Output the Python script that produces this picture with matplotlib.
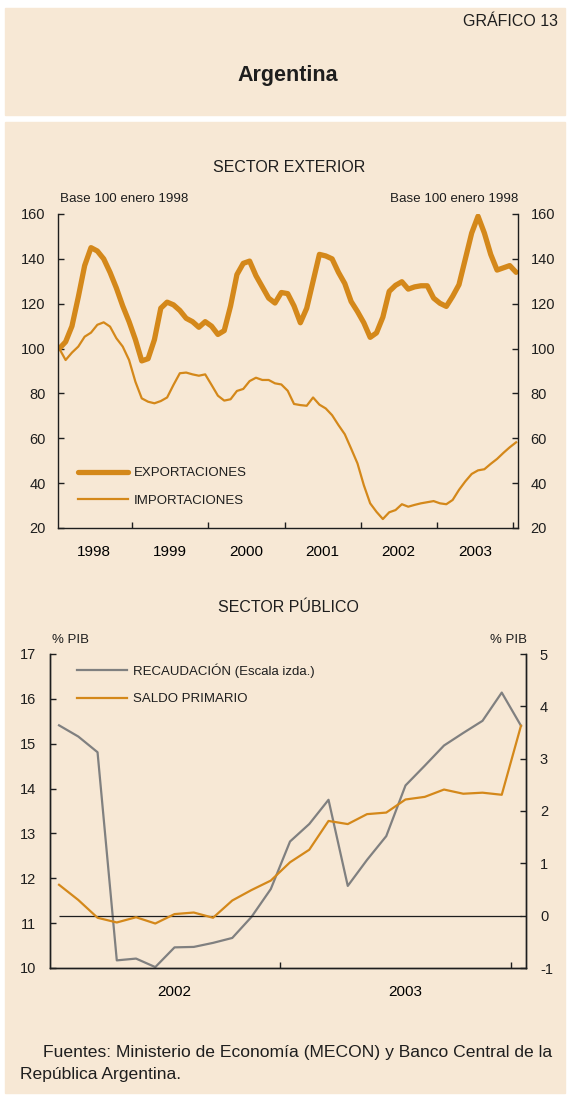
import matplotlib.pyplot as plt
import numpy as np
from matplotlib.patches import Rectangle

plt.rcParams['font.family'] = ['Liberation Sans', 'DejaVu Sans']
plt.rcParams['axes.unicode_minus'] = False

# Sector exterior, base 100 enero 1998 (mensual, ene 1998 - ene 2004)
exportaciones = [100, 103, 110, 123, 137, 145, 143.5, 140, 134, 127,
                 119, 112, 104, 94.5, 95.5, 104, 118, 120.7, 119.5, 117,
                 113.5, 112, 109.5, 112, 110, 106.3, 108, 119, 133, 138,
                 139, 132.5, 127.5, 122.5, 120.3, 125, 124.5, 119, 111.5, 118,
                 130, 142, 141.3, 140, 134, 129, 121, 116.5, 111.5, 105,
                 107, 114, 125.5, 128.2, 129.8, 126.5, 127.5, 128, 128, 122.5,
                 120.2, 118.8, 123.3, 128.5, 140, 151.5, 159, 151.5, 142, 135,
                 136, 137, 134]
importaciones = [100, 94.9, 98.2, 100.9, 105.3, 107.1, 110.6, 111.7, 109.8, 104.6,
                 100.9, 94.9, 85.2, 77.8, 76.3, 75.6, 76.6, 78.2, 83.8, 89,
                 89.3, 88.5, 87.9, 88.5, 83.8, 79, 76.8, 77.4, 81.1, 82,
                 85.5, 87, 86, 86, 84.5, 84, 81.2, 75.3, 74.8, 74.5,
                 78.2, 75, 73.3, 70.3, 65.9, 61.8, 55.4, 48.8, 39.1, 31,
                 27.2, 24, 27, 28, 30.6, 29.5, 30.3, 31, 31.5, 32,
                 31, 30.6, 32.5, 37, 40.8, 44.1, 45.7, 46.2, 48.6, 50.8,
                 53.5, 56, 58.2]
anios_ext = ['1998', '1999', '2000', '2001', '2002', '2003']

# Sector publico, % PIB (mensual, ene 2002 - ene 2004)
recaudacion = [15.41, 15.16, 14.81, 10.17, 10.21, 10.02, 10.46, 10.47, 10.56, 10.67,
               11.14, 11.76, 12.82, 13.21, 13.75, 11.83, 12.41, 12.94, 14.07, 14.51,
               14.96, 15.24, 15.51, 16.14, 15.40]
saldo_primario = [0.59, 0.30, -0.04, -0.13, -0.03, -0.15, 0.03, 0.06, -0.04, 0.29,
                  0.49, 0.67, 1.02, 1.26, 1.81, 1.75, 1.94, 1.97, 2.22, 2.27,
                  2.41, 2.33, 2.35, 2.31, 3.63]
anios_pub = ['2002', '2003']

W, H = 570, 1097
beige = '#F7E8D5'
naranja = '#D4881A'
gris = '#808080'
oscuro = '#1E1E1E'


def caja(x0, y0, x1, y1):
    return [x0 / W, 1 - y1 / H, (x1 - x0) / W, (y1 - y0) / H]


def texto(x, y, s, **kw):
    fig.text(x / W, 1 - y / H, s, color=oscuro, va='center', **kw)


def estilo(ax):
    ax.set_facecolor('none')
    ax.spines['top'].set_visible(False)
    for s in ['left', 'right', 'bottom']:
        ax.spines[s].set_color(oscuro)
        ax.spines[s].set_linewidth(1)
    ax.tick_params(direction='in', length=4, width=1, color=oscuro,
                   labelsize=10.5, labelcolor=oscuro)
    ax.tick_params(axis='x', which='minor', length=0, pad=12, labelsize=11)


fig = plt.figure(figsize=(W / 100, H / 100), dpi=100)
fig.patch.set_facecolor('white')
fig.patches.append(Rectangle((5 / W, 1 - 115 / H), 560 / W, 107 / H,
                             transform=fig.transFigure, color=beige, zorder=-10))
fig.patches.append(Rectangle((5 / W, 1 - 1093 / H), 560 / W, 971 / H,
                             transform=fig.transFigure, color=beige, zorder=-10))

texto(558, 22, 'GRÁFICO 13', ha='right', fontsize=11.5)
texto(288, 75, 'Argentina', ha='center', fontsize=15.5, fontweight='bold')

# ---- sector exterior
texto(289, 167, 'SECTOR EXTERIOR', ha='center', fontsize=11.5)
texto(60, 199, 'Base 100 enero 1998', ha='left', fontsize=9.6)
texto(518, 199, 'Base 100 enero 1998', ha='right', fontsize=9.6)

ax1 = fig.add_axes(caja(58, 214, 518, 528))
estilo(ax1)
x = np.arange(len(exportaciones))
ax1.plot(x, exportaciones, color=naranja, lw=3.8, solid_joinstyle='round',
         solid_capstyle='round', label='EXPORTACIONES')
ax1.plot(x, importaciones, color=naranja, lw=1.6, label='IMPORTACIONES')
ax1.set_xlim(-0.2, 72.3)
ax1.set_ylim(20, 160)
ax1.set_yticks(np.arange(20, 161, 20))
ax1.tick_params(axis='y', left=True, right=True, labelleft=True, labelright=True, pad=9)
ax1.set_xticks(np.arange(11.5, 72.3, 12))
ax1.set_xticklabels([])
ax1.set_xticks(np.arange(len(anios_ext)) * 12 + 5.5, anios_ext, minor=True)
ax1.legend(loc='upper left', bbox_to_anchor=(78 / W, 1 - 467 / H),
           bbox_transform=fig.transFigure, frameon=False, fontsize=9.5,
           handlelength=3.8, handletextpad=0.45, labelspacing=1.18,
           borderpad=0, borderaxespad=0, labelcolor=oscuro)

# ---- sector publico
texto(288, 607, 'SECTOR PÚBLICO', ha='center', fontsize=11.5)
texto(52, 640, '% PIB', ha='left', fontsize=9.5)
texto(527, 640, '% PIB', ha='right', fontsize=9.5)

ax2 = fig.add_axes(caja(50, 654, 526, 968))
estilo(ax2)
axr = ax2.twinx()
estilo(axr)
m = np.arange(len(recaudacion))
l1, = ax2.plot(m, recaudacion, color=gris, lw=1.6, label='RECAUDACIÓN (Escala izda.)')
axr.hlines(0, m[0], m[-1], color=oscuro, lw=0.9)
l2, = axr.plot(m, saldo_primario, color=naranja, lw=1.6, label='SALDO PRIMARIO')
ax2.set_xlim(-0.47, 24.26)
ax2.set_ylim(10, 17)
axr.set_ylim(-1, 5)
ax2.set_yticks(np.arange(10, 18, 1))
axr.set_yticks(np.arange(-1, 6, 1))
ax2.tick_params(axis='y', pad=10)
axr.tick_params(axis='y', pad=10)
ax2.set_xticks(np.arange(11.5, 24.3, 12))
ax2.set_xticklabels([])
ax2.set_xticks(np.arange(len(anios_pub)) * 12 + 6, anios_pub, minor=True)
axr.legend(handles=[l1, l2], loc='upper left', bbox_to_anchor=(77 / W, 1 - 663 / H),
           bbox_transform=fig.transFigure, frameon=False, fontsize=9.5,
           handlelength=3.8, handletextpad=0.45, labelspacing=1.18,
           borderpad=0, borderaxespad=0, labelcolor=oscuro)

texto(43, 1053, 'Fuentes: Ministerio de Economía (MECON) y Banco Central de la',
      ha='left', fontsize=12.6)
texto(20, 1075, 'República Argentina.', ha='left', fontsize=12.6)

fig.savefig('out.png', dpi=100, facecolor='white')
